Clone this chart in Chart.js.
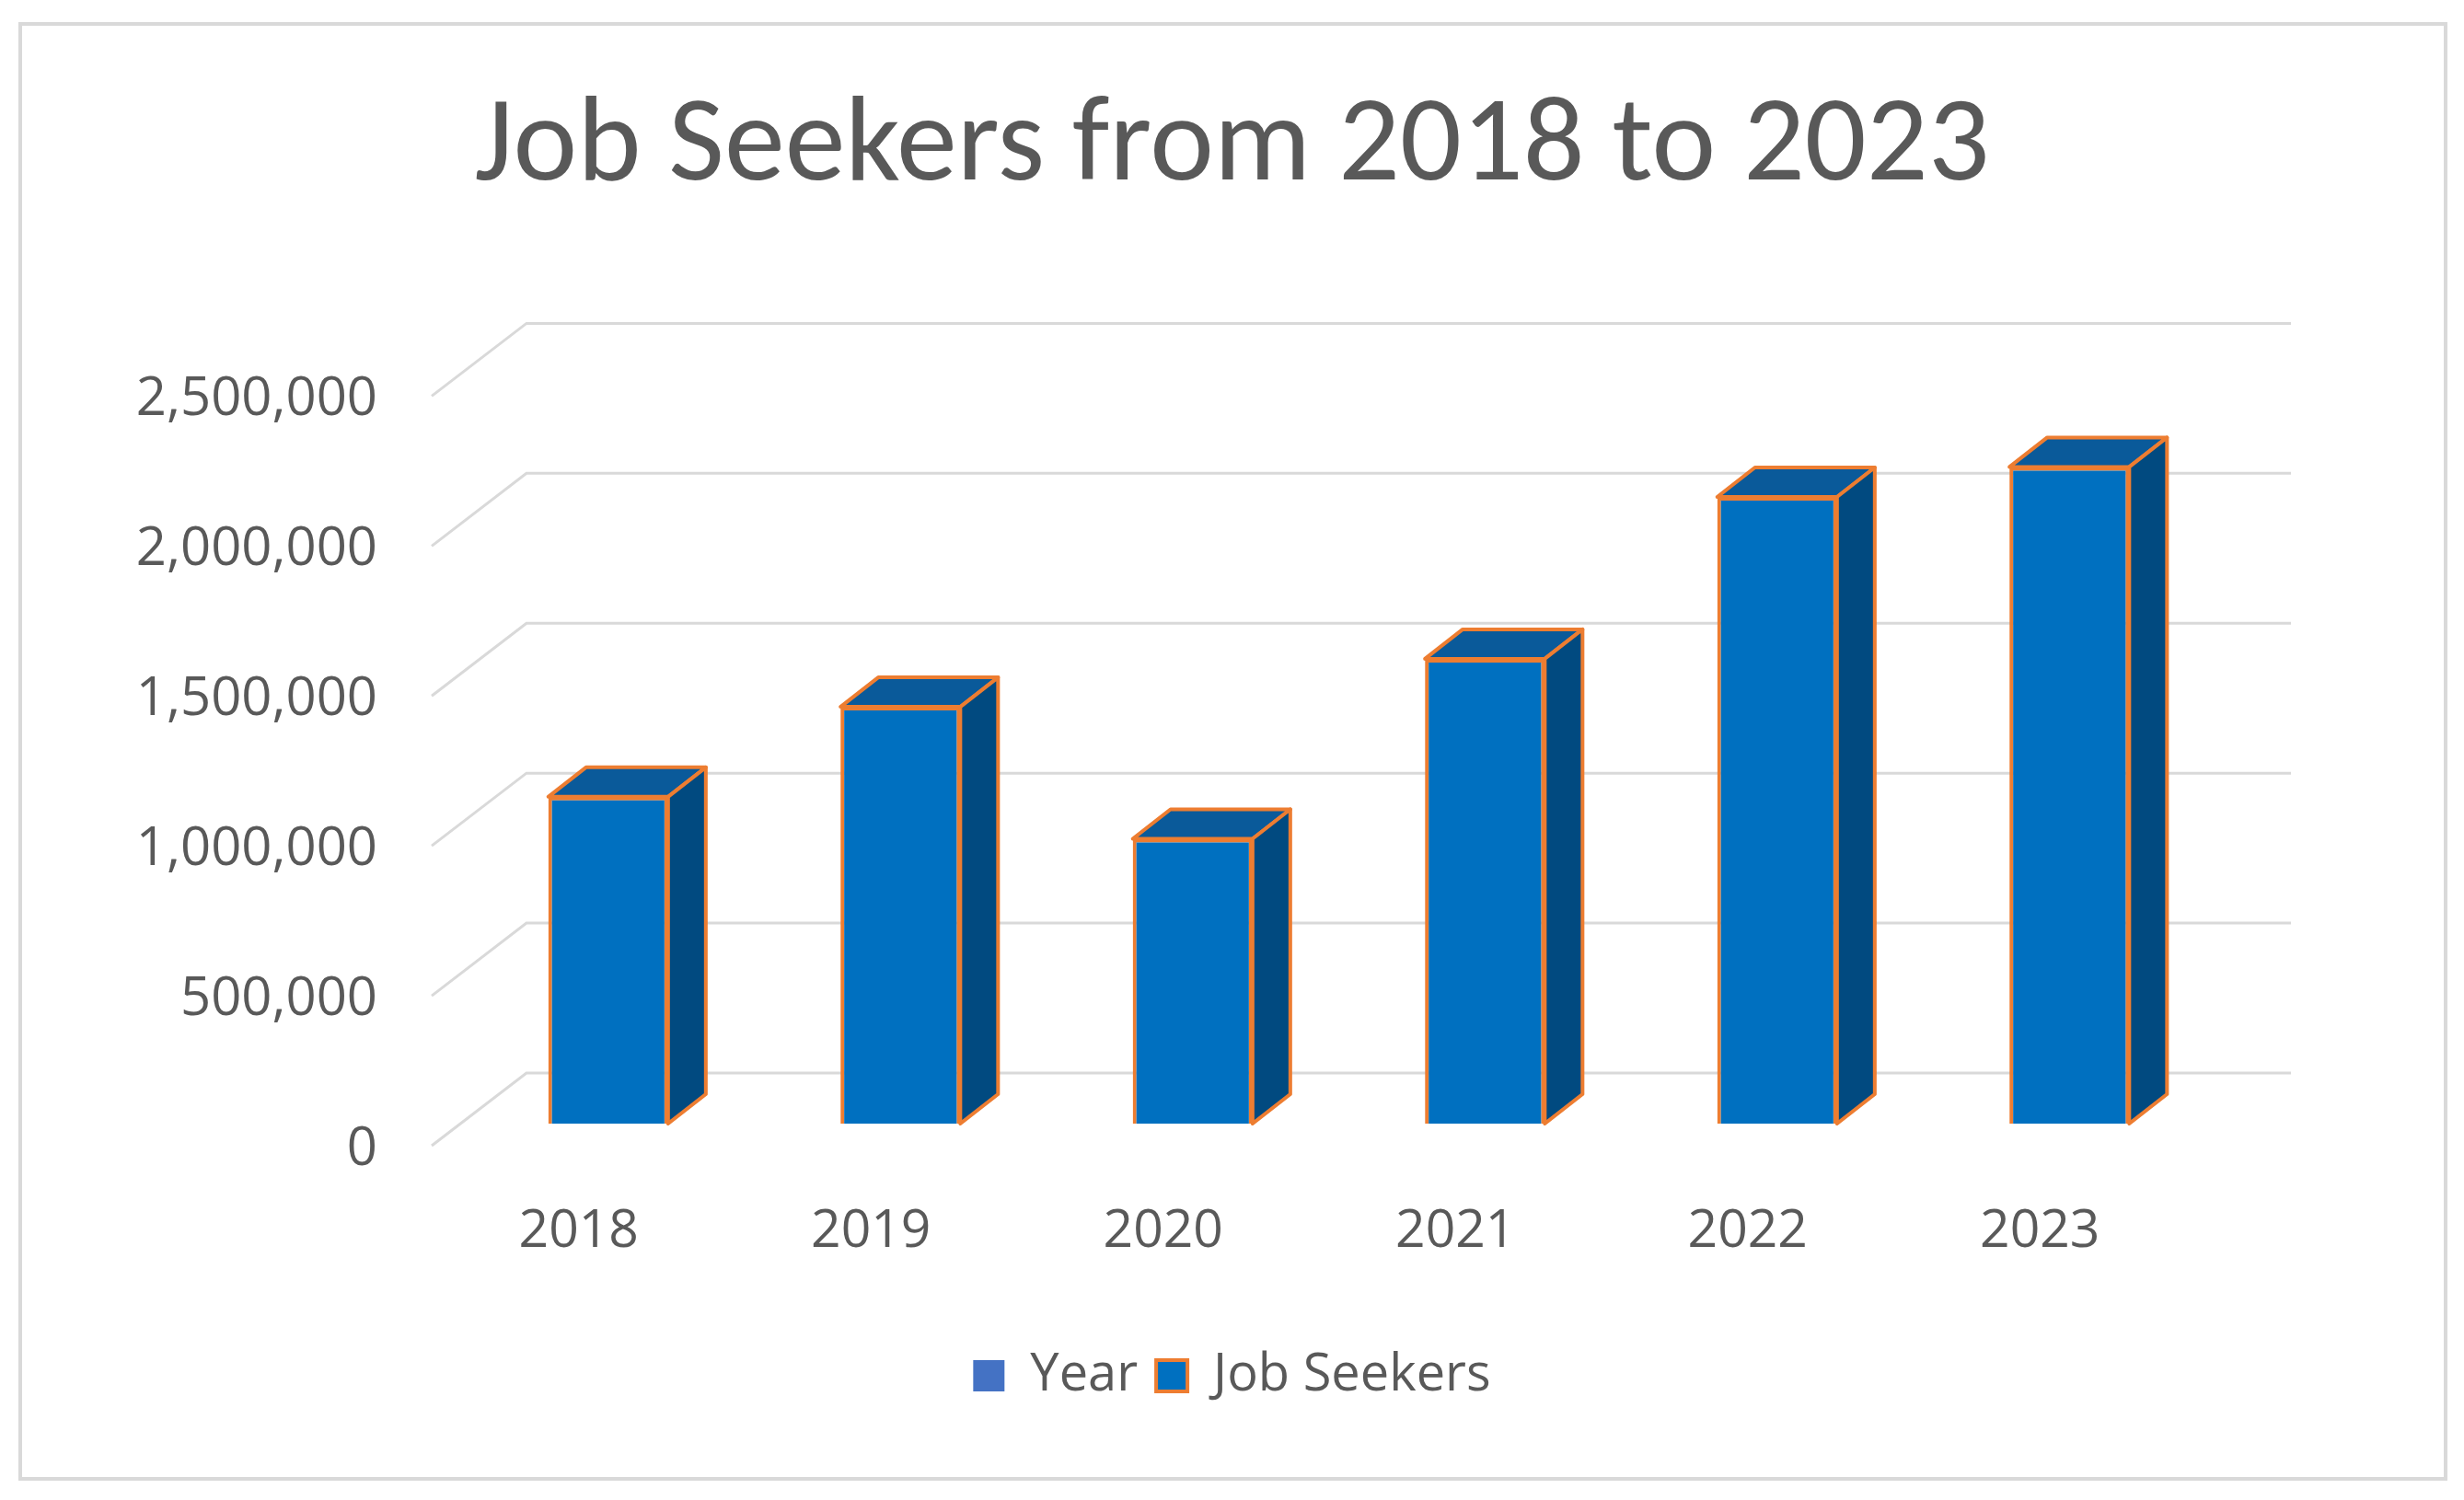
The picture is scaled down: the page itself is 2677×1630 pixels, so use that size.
<!DOCTYPE html>
<html>
<head>
<meta charset="utf-8">
<script src="https://cdn.jsdelivr.net/npm/chart.js@4.4.1/dist/chart.umd.min.js"></script>
<style>
  html, body { margin: 0; padding: 0; background: #fff; }
  #wrap { position: relative; width: 2677px; height: 1630px; }
  #frame { position: absolute; left: 20px; top: 24px; width: 2631px; height: 1577px; border: 4px solid #d9d9d9; }
  canvas { position: absolute; left: 0; top: 0; }
</style>
</head>
<body>
<div id="wrap">
  <div id="frame"></div>
  <canvas id="chart" width="2677" height="1630"></canvas>
</div>
<script>
// Data
const years = ['2018', '2019', '2020', '2021', '2022', '2023'];
const jobSeekers = [1090000, 1390000, 950000, 1550000, 2090000, 2190000];
const yTicks = [0, 500000, 1000000, 1500000, 2000000, 2500000];

// 3D look
const DEPTH_X = 41, DEPTH_Y = 32;
const TOP_COLOR = '#0a5a9a';
const SIDE_COLOR = '#014a80';
const EDGE_COLOR = '#ed7d31';

const floorGrid = {
    id: 'floorGrid',
    beforeDatasetsDraw(chart) {
        const ctx = chart.ctx;
        const y = chart.scales.y;
        const left = chart.chartArea.left;
        ctx.save();
        ctx.strokeStyle = '#d9d9d9';
        ctx.lineWidth = 3;
        yTicks.forEach(v => {
            const py = y.getPixelForValue(v);
            ctx.beginPath();
            ctx.moveTo(left - 33, py + 24);
            ctx.lineTo(left + 70, py - 55);
            ctx.lineTo(2489, py - 55);
            ctx.stroke();
        });
        ctx.restore();
    }
};

const bars3d = {
    id: 'bars3d',
    afterDatasetsDraw(chart) {
        const ctx = chart.ctx;
        const meta = chart.getDatasetMeta(1);
        ctx.save();
        ctx.lineWidth = 4;
        ctx.strokeStyle = EDGE_COLOR;
        ctx.lineJoin = 'round';
        meta.data.forEach(bar => {
            const p = bar.getProps(['x', 'y', 'base', 'width'], true);
            const l = p.x - p.width / 2, r = p.x + p.width / 2;
            // top face
            ctx.beginPath();
            ctx.moveTo(l, p.y);
            ctx.lineTo(l + DEPTH_X, p.y - DEPTH_Y);
            ctx.lineTo(r + DEPTH_X, p.y - DEPTH_Y);
            ctx.lineTo(r, p.y);
            ctx.closePath();
            ctx.fillStyle = TOP_COLOR;
            ctx.fill();
            ctx.stroke();
            // side face
            ctx.beginPath();
            ctx.moveTo(r, p.y);
            ctx.lineTo(r + DEPTH_X, p.y - DEPTH_Y);
            ctx.lineTo(r + DEPTH_X, p.base - DEPTH_Y);
            ctx.lineTo(r, p.base);
            ctx.closePath();
            ctx.fillStyle = SIDE_COLOR;
            ctx.fill();
            ctx.stroke();
        });
        ctx.restore();
    }
};

new Chart(document.getElementById('chart'), {
    type: 'bar',
    data: {
        labels: years,
        datasets: [{
            label: 'Year',
            data: [],
            backgroundColor: '#4472c4',
            borderWidth: 0
        }, {
            label: 'Job Seekers',
            data: jobSeekers,
            backgroundColor: '#0070c0',
            borderColor: EDGE_COLOR,
            borderWidth: 4
        }]
    },
    options: {
        responsive: false,
        animation: false,
        grouped: false,
        barPercentage: 0.41,
        categoryPercentage: 1,
        layout: { padding: { left: 0, right: 0, top: 0, bottom: 97 } },
        plugins: {
            title: {
                display: true,
                text: 'Job Seekers from 2018 to 2023',
                color: '#595959',
                font: { family: 'Calibri, Carlito, "Open Sans", sans-serif', size: 132, weight: 'normal' },
                padding: { top: 83, bottom: 165 }
            },
            legend: {
                position: 'bottom',
                labels: {
                    color: '#595959',
                    font: { family: '"Open Sans", sans-serif', size: 56 },
                    boxWidth: 34,
                    boxHeight: 34,
                    padding: 20
                }
            },
            tooltip: { enabled: false }
        },
        scales: {
            x: {
                grid: { display: false },
                border: { display: false },
                ticks: {
                    color: '#595959',
                    font: { family: '"Open Sans", sans-serif', size: 57 },
                    padding: 76,
                    labelOffset: -32
                },
                afterFit(scale) { scale.height = 226; }
            },
            y: {
                min: 0,
                max: 2500000,
                grid: { display: false },
                border: { display: false },
                afterBuildTicks(scale) { scale.ticks = yTicks.map(v => ({ value: v })); },
                ticks: {
                    color: '#595959',
                    font: { family: '"Open Sans", sans-serif', size: 58 },
                    padding: 84,
                    labelOffset: 28,
                    callback: v => v.toLocaleString('en-US')
                },
                afterFit(scale) { scale.width = 502; }
            },
            yRight: {
                position: 'right',
                display: true,
                grid: { display: false },
                border: { display: false },
                ticks: { display: false },
                afterFit(scale) { scale.width = 270; }
            }
        }
    },
    plugins: [floorGrid, bars3d]
});
</script>
</body>
</html>
